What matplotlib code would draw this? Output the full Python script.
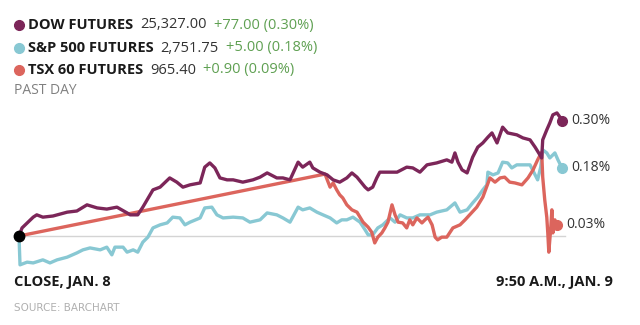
import matplotlib
matplotlib.use('Agg')
import matplotlib.pyplot as plt

# minutes since the Jan. 8 close, percent change from close
dow_t = [0, 6, 28, 35, 47, 67, 95, 114, 134, 154, 173, 193, 213, 219, 234, 244, 264, 278,
         297, 311, 323, 337, 357, 366, 376, 386, 396, 410, 422, 441, 461, 475, 489, 508,
         520, 534, 550, 559, 573, 579, 593, 607, 619, 632, 646, 656, 666, 682, 688, 697,
         705, 711, 731, 745, 764, 776, 790, 804, 823, 843, 853, 859, 865, 873, 883, 894,
         904, 914, 924, 932, 942, 953, 963, 981, 993, 1007, 1017, 1024, 1030, 1032, 1040,
         1046, 1052, 1060, 1066, 1070]
dow_v = [0.000, 0.021, 0.049, 0.055, 0.049, 0.052, 0.062, 0.065, 0.081, 0.073, 0.070, 0.075,
         0.060, 0.055, 0.055, 0.075, 0.120, 0.127, 0.151, 0.140, 0.127, 0.133, 0.138, 0.179,
         0.190, 0.177, 0.151, 0.146, 0.146, 0.140, 0.146, 0.153, 0.164, 0.151, 0.151, 0.146,
         0.192, 0.179, 0.192, 0.177, 0.166, 0.159, 0.146, 0.140, 0.151, 0.164, 0.153, 0.127,
         0.120, 0.127, 0.151, 0.166, 0.166, 0.166, 0.179, 0.177, 0.166, 0.185, 0.190, 0.198,
         0.192, 0.216, 0.192, 0.172, 0.164, 0.205, 0.231, 0.242, 0.257, 0.268, 0.242, 0.283,
         0.268, 0.263, 0.255, 0.250, 0.231, 0.216, 0.203, 0.250, 0.276, 0.294, 0.315, 0.320,
         0.309, 0.300]

sp_t = [0, 2, 16, 28, 47, 61, 75, 95, 114, 126, 140, 160, 173, 183, 189, 205, 213, 225, 234,
        244, 254, 264, 278, 292, 303, 317, 327, 337, 357, 366, 380, 390, 402, 422, 441, 455,
        475, 489, 508, 520, 534, 550, 559, 573, 587, 599, 613, 626, 636, 646, 658, 672, 682,
        688, 697, 707, 717, 731, 741, 751, 764, 776, 790, 810, 823, 843, 859, 869, 883, 894,
        904, 914, 922, 924, 934, 944, 953, 963, 971, 981, 993, 1007, 1017, 1022, 1028, 1032,
        1040, 1046, 1056, 1062, 1070]
sp_v = [0.000, -0.075, -0.068, -0.070, -0.062, -0.070, -0.062, -0.055, -0.044, -0.036, -0.031,
        -0.036, -0.029, -0.049, -0.029, -0.029, -0.042, -0.036, -0.042, -0.016, -0.003, 0.021,
        0.029, 0.034, 0.049, 0.047, 0.029, 0.036, 0.047, 0.073, 0.075, 0.055, 0.047, 0.049,
        0.047, 0.036, 0.042, 0.060, 0.055, 0.047, 0.036, 0.075, 0.068, 0.073, 0.062, 0.055,
        0.047, 0.034, 0.042, 0.042, 0.049, 0.036, 0.016, 0.003, 0.003, 0.021, 0.029, 0.047,
        0.036, 0.055, 0.047, 0.047, 0.055, 0.055, 0.062, 0.068, 0.086, 0.062, 0.068, 0.086,
        0.101, 0.120, 0.133, 0.166, 0.159, 0.164, 0.192, 0.190, 0.177, 0.185, 0.185, 0.185,
        0.159, 0.146, 0.179, 0.224, 0.216, 0.203, 0.216, 0.198, 0.177]

tsx_t = [0, 603, 613, 619, 626, 632, 638, 646, 656, 666, 672, 678, 688, 695, 701, 707, 715,
         721, 727, 735, 741, 747, 756, 764, 770, 776, 784, 794, 800, 806, 814, 820, 825, 833,
         843, 855, 869, 879, 888, 902, 914, 928, 938, 948, 957, 967, 977, 991, 1003, 1013,
         1022, 1030, 1032, 1036, 1040, 1042, 1044, 1048, 1050, 1052, 1056, 1060]
tsx_v = [0.000, 0.161, 0.127, 0.138, 0.120, 0.107, 0.099, 0.081, 0.068, 0.062, 0.049, 0.036,
         0.023, 0.010, -0.018, -0.003, 0.008, 0.021, 0.036, 0.081, 0.055, 0.036, 0.034, 0.021,
         0.042, 0.029, 0.047, 0.034, 0.042, 0.049, 0.029, -0.003, -0.010, -0.003, -0.003,
         0.021, 0.029, 0.042, 0.055, 0.075, 0.101, 0.151, 0.140, 0.151, 0.153, 0.140, 0.138,
         0.133, 0.151, 0.172, 0.198, 0.218, 0.153, 0.094, 0.049, 0.008, -0.042, 0.023, 0.068,
         0.008, 0.042, 0.029]

names = ['DOW FUTURES', 'S&P 500 FUTURES', 'TSX 60 FUTURES']
prices = ['25,327.00', '2,751.75', '965.40']
changes = ['+77.00 (0.30%)', '+5.00 (0.18%)', '+0.90 (0.09%)']
end_labels = ['0.30%', '0.18%', '0.03%']
colors = ['#7c2659', '#88c8d3', '#dc655d']

FONT = 'Open Sans'
W, H = 640, 325


def px(x, y):
    return x / W, 1 - y / H


fig = plt.figure(figsize=(6.4, 3.25), dpi=100)
fig.patch.set_facecolor('white')

# axes placed so that x 0..1070 spans pixels 19..562 and zero sits at pixel 236
scale = 0.0026
ax = fig.add_axes([19 / W, (H - 268) / H, 543 / W, 163 / H])
ax.set_xlim(0, 1070)
ax.set_ylim(-(268 - 236) * scale, (236 - 105) * scale)
ax.axis('off')

ax.axhline(0, xmin=0, xmax=1.006, color='#d4d4d4', lw=1, clip_on=False, zorder=1)

series = [(sp_t, sp_v, colors[1]), (tsx_t, tsx_v, colors[2]), (dow_t, dow_v, colors[0])]
for z, (t, v, c) in enumerate(series):
    ax.plot(t, v, color=c, lw=2.4, solid_joinstyle='round', zorder=2 + z, clip_on=False)
    ax.plot(t[-1], v[-1], 'o', color=c, ms=7, zorder=2 + z, clip_on=False)

ax.plot(0, 0, 'o', color='black', ms=7.5, zorder=10, clip_on=False)

label_y = [dow_v[-1], sp_v[-1], tsx_v[-1]]
label_x = [dow_t[-1], sp_t[-1], tsx_t[-1]]
for lx, ly, txt in zip(label_x, label_y, end_labels):
    ax.annotate(txt, (lx, ly), xytext=(6.5, 0), textcoords='offset points',
                va='center', ha='left', fontsize=10, color='#333333', family=FONT)

# header legend
fig.canvas.draw()
renderer = fig.canvas.get_renderer()
rows_y = [25, 48, 70]
for i in range(3):
    y = rows_y[i]
    fig.add_artist(plt.Line2D([19 / W], [1 - y / H], marker='o', color=colors[i], ms=7,
                              transform=fig.transFigure))
    x = 28
    parts = [(names[i], 'bold', '#1a1a1a'), (prices[i], 'normal', '#333333'),
             (changes[i], 'normal', '#5fa052')]
    for txt, wt, col in parts:
        t = fig.text(*px(x, y), txt, fontsize=10.5, fontweight=wt, color=col, family=FONT,
                     va='center', ha='left')
        bb = t.get_window_extent(renderer)
        x += bb.width + 7

fig.text(*px(14, 91), 'PAST DAY', fontsize=10, color='#808080', family=FONT, va='center')

fig.text(*px(14, 282), 'CLOSE, JAN. 8', fontsize=10.5, fontweight='bold', color='#1a1a1a',
         family=FONT, va='center')
fig.text(*px(613, 282), '9:50 A.M., JAN. 9', fontsize=10.5, fontweight='bold',
         color='#1a1a1a', family=FONT, va='center', ha='right')
fig.text(*px(14, 308), 'SOURCE: BARCHART', fontsize=7.5, color='#b0b0b0',
         family='DejaVu Sans', va='center')

fig.savefig('out.png', dpi=100, facecolor='white')
